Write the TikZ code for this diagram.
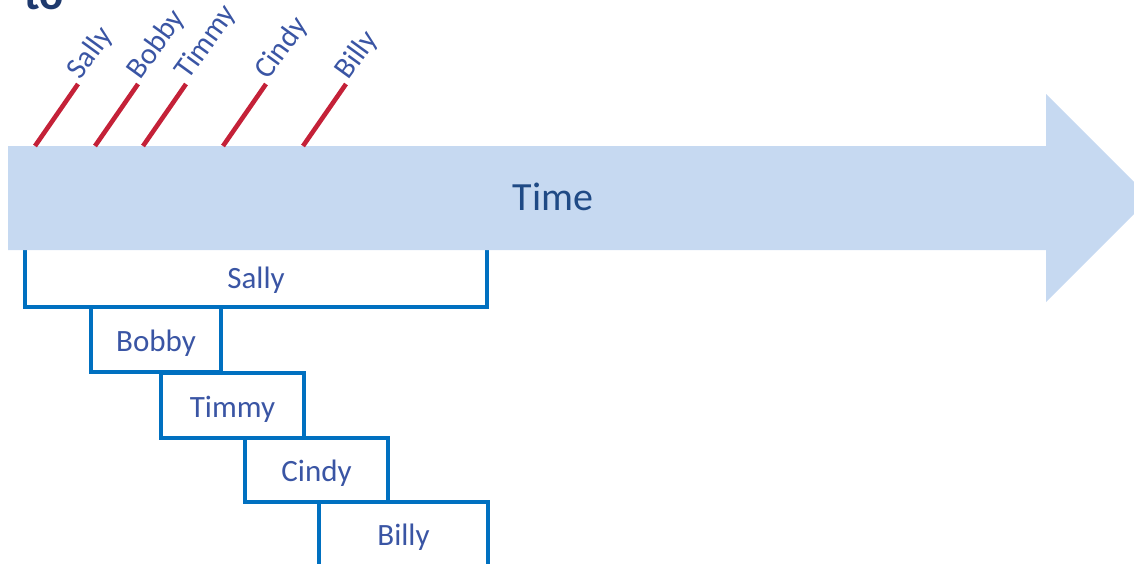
\documentclass[tikz,border=0pt]{standalone}
\usepackage{fontspec}
\setmainfont{Carlito}
\definecolor{arrowfill}{HTML}{C6D9F1}
\definecolor{timecol}{HTML}{1F4A85}
\definecolor{boxline}{HTML}{0070C0}
\definecolor{labelcol}{HTML}{3A55A4}
\definecolor{tickred}{HTML}{C42138}
\definecolor{navy}{HTML}{1F3A6E}
\begin{document}
\begin{tikzpicture}[x=1pt,y=-1pt,
  personbox/.style={draw=boxline, line width=4.5pt, rectangle, inner sep=0pt,
    text=labelcol, font=\fontsize{31}{31}\selectfont, text height=23pt, text depth=0pt},
  ticklabel/.style={anchor=base west, rotate=54, inner xsep=4pt, inner ysep=0pt,
    text=labelcol, font=\fontsize{30}{30}\selectfont},
  tick/.style={draw=tickred, line width=4.6pt},
  timetext/.style={text=timecol, font=\fontsize{40}{40}\selectfont, inner sep=0pt}]
\useasboundingbox (0,0) rectangle (1134,563);
% cropped heading
\node[anchor=base west, inner sep=0pt, text=navy, font=\bfseries\fontsize{45}{45}\selectfont] (to) at (24,9) {to};
% duration boxes
\node[personbox, minimum width=462pt, minimum height=61pt] (sallybox) at (256,276.5) {Sally};
\node[personbox, minimum width=130pt, minimum height=65pt] (bobbybox) at (156,339.5) {Bobby};
\node[personbox, minimum width=143pt, minimum height=65pt] (timmybox) at (232.5,405.5) {Timmy};
\node[personbox, minimum width=143pt, minimum height=64pt] (cindybox) at (316.5,470) {Cindy};
\node[personbox, minimum width=169pt, minimum height=66pt, text height=20pt] (billybox) at (403.5,535) {Billy};
% time arrow
\fill[arrowfill] (8,146) -- (1046,146) -- (1046,94) -- (1150,198) -- (1046,302) -- (1046,250) -- (8,250) -- cycle;
\node[timetext] (time) at (553,197) {Time};
% arrival ticks
\coordinate (s0) at (35,146);
\coordinate (b0) at (95,146);
\coordinate (t0) at (143,146);
\coordinate (c0) at (223,146);
\coordinate (y0) at (303,146);
\node[ticklabel] (sallyL) at (78,84) {Sally};
\node[ticklabel] (bobbyL) at (138,84) {Bobby};
\node[ticklabel] (timmyL) at (186,84) {Timmy};
\node[ticklabel] (cindyL) at (266,84) {Cindy};
\node[ticklabel] (billyL) at (346,84) {Billy};
\draw[tick] (s0) -- (sallyL.base west);
\draw[tick] (b0) -- (bobbyL.base west);
\draw[tick] (t0) -- (timmyL.base west);
\draw[tick] (c0) -- (cindyL.base west);
\draw[tick] (y0) -- (billyL.base west);
\end{tikzpicture}
\end{document}
